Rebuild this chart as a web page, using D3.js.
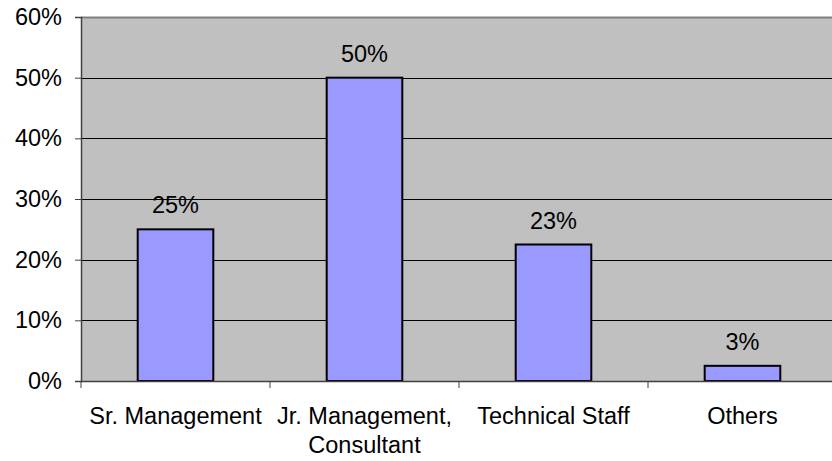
<!DOCTYPE html>
<html lang="en">
<head>
    <meta charset="UTF-8">
    <title>Staff Categories</title>
    <script src="https://d3js.org/d3.v7.min.js"></script>
    <style>
        body { margin: 0; background: #fff; }
        text { font-family: "Liberation Sans", Arial, sans-serif; font-size: 23.5px; fill: #000; }
        .grid { stroke: #000; stroke-width: 1px; }
        .bar { fill: #9999ff; stroke: #000; stroke-width: 2px; }
    </style>
</head>
<body>
    <div id="chart"></div>
    <script>
        const categories = ["Sr. Management", "Jr. Management,|Consultant", "Technical Staff", "Others"];
        const values = [25, 50, 22.5, 2.5];
        const yTicks = [0, 10, 20, 30, 40, 50, 60];

        const width = 832, height = 461;
        const plotLeft = 81, plotRight = 837, plotTop = 17, plotBottom = 381;

        const svg = d3.select("#chart").append("svg")
            .attr("width", width)
            .attr("height", height);

        const x = d3.scaleBand()
            .domain(categories)
            .range([plotLeft, plotRight])
            .paddingInner(0.6)
            .paddingOuter(0.3);

        const y = d3.scaleLinear()
            .domain([0, 60])
            .range([plotBottom, plotTop]);

        // plot background
        svg.append("rect")
            .attr("x", plotLeft).attr("y", plotTop)
            .attr("width", plotRight - plotLeft).attr("height", plotBottom - plotTop)
            .attr("fill", "#c0c0c0");
        svg.append("line")
            .attr("x1", plotLeft).attr("x2", plotRight)
            .attr("y1", plotTop + 0.5).attr("y2", plotTop + 0.5)
            .attr("stroke", "#808080").attr("stroke-width", 2);

        // gridlines
        svg.selectAll(".grid")
            .data(yTicks.filter(d => d > 0 && d < 60))
            .enter().append("line")
            .attr("class", "grid")
            .attr("x1", plotLeft).attr("x2", plotRight)
            .attr("y1", d => Math.round(y(d)) + 0.5)
            .attr("y2", d => Math.round(y(d)) + 0.5);

        // y axis
        const yAxis = svg.append("g")
            .attr("transform", `translate(${plotLeft},0)`)
            .call(d3.axisLeft(y).tickValues(yTicks).tickSize(6).tickPadding(13)
                .tickFormat(d => d + "%"));
        yAxis.select(".domain").attr("stroke", "#404040").attr("stroke-width", 1.5);
        yAxis.selectAll(".tick line").attr("stroke", "#404040");
        yAxis.attr("font-size", null).attr("font-family", null);
        yAxis.selectAll(".tick text").attr("fill", "#000");

        // bars
        svg.selectAll(".bar")
            .data(values)
            .enter().append("rect")
            .attr("class", "bar")
            .attr("x", (d, i) => x(categories[i]))
            .attr("y", d => y(d))
            .attr("width", x.bandwidth())
            .attr("height", d => plotBottom - y(d));

        // data labels
        svg.selectAll(".val")
            .data(values)
            .enter().append("text")
            .attr("class", "val")
            .attr("text-anchor", "middle")
            .attr("x", (d, i) => x(categories[i]) + x.bandwidth() / 2)
            .attr("y", d => y(d) - 16)
            .text(d => Math.round(d) + "%");

        // x axis
        svg.append("line")
            .attr("x1", plotLeft).attr("x2", plotRight)
            .attr("y1", plotBottom + 0.5).attr("y2", plotBottom + 0.5)
            .attr("stroke", "#404040").attr("stroke-width", 1.5);
        const step = x.step();
        svg.selectAll(".xtick")
            .data(d3.range(categories.length + 1))
            .enter().append("line")
            .attr("x1", i => plotLeft + i * step).attr("x2", i => plotLeft + i * step)
            .attr("y1", plotBottom).attr("y2", plotBottom + 7)
            .attr("stroke", "#404040");

        const xl = svg.selectAll(".xlab")
            .data(categories)
            .enter().append("text")
            .attr("text-anchor", "middle")
            .attr("x", d => x(d) + x.bandwidth() / 2)
            .attr("y", 424);
        xl.selectAll("tspan")
            .data(d => d.split("|").map(s => ({ s, cx: x(d) + x.bandwidth() / 2 })))
            .enter().append("tspan")
            .attr("x", d => d.cx)
            .attr("dy", (d, i) => i === 0 ? 0 : 29)
            .text(d => d.s);
    </script>
</body>
</html>
